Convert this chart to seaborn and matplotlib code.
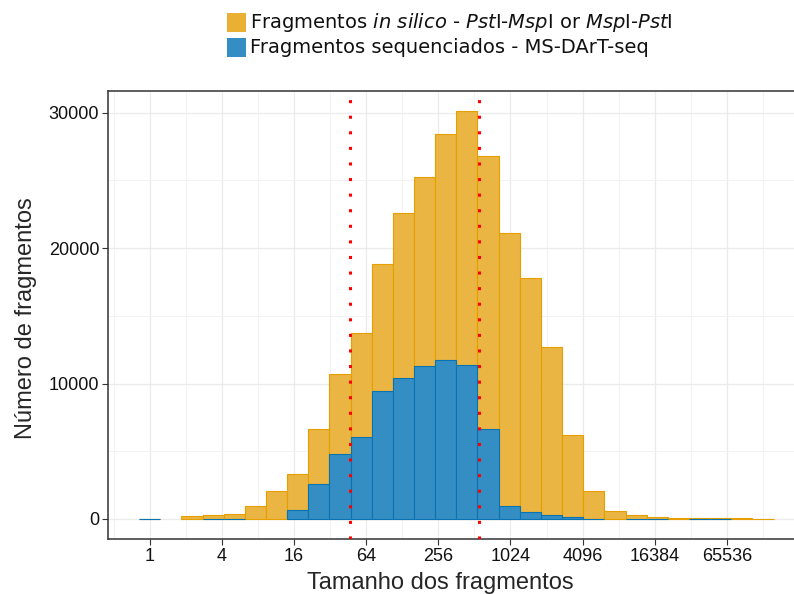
import numpy as np
import pandas as pd
import matplotlib
matplotlib.use("Agg")
import matplotlib.pyplot as plt
import seaborn as sns
from matplotlib.patches import Rectangle

# ---- data ----
n_bins = 30
log2_max = 17.0            # histogram spans 1 .. 2^17 on a log2 axis
bin_index = np.arange(n_bins)
in_silico_counts = [15, 0, 230, 310, 390, 960, 2060, 3320, 6650, 10700,
                    13730, 18830, 22600, 25250, 28430, 30130, 26800, 21120, 17800, 12700,
                    6200, 2070, 590, 295, 150, 75, 75, 75, 75, 15]
sequenced_counts = [15, 0, 0, 15, 15, 0, 0, 690, 2610, 4820,
                    6060, 9480, 10410, 11300, 11770, 11400, 6620, 985, 540, 320,
                    170, 30, 0, 15, 15, 0, 15, 15, 0, 0]
cutoff_sizes = [46.6, 564]
tick_sizes = [1, 4, 16, 64, 256, 1024, 4096, 16384, 65536]
y_ticks = [0, 10000, 20000, 30000]
legend_labels = [
    r"Fragmentos $\mathit{in\ silico}$ - $\mathit{Pst}$I-$\mathit{Msp}$I or $\mathit{Msp}$I-$\mathit{Pst}$I",
    "Fragmentos sequenciados - MS-DArT-seq",
]
x_title = "Tamanho dos fragmentos"
y_title = "Número de fragmentos"

yellow_fill, yellow_edge = "#E9B033", "#E69F00"
blue_fill, blue_edge = "#348EC3", "#0A74B2"

# ---- figure ----
sns.set_theme(style="white")
plt.rcParams['font.family'] = ['Liberation Sans', 'DejaVu Sans']
plt.rcParams['mathtext.fontset'] = 'dejavusans'

W, H = 794, 594
fig = plt.figure(figsize=(W / 100, H / 100), dpi=100)
L, R, T, B = 107.5, 794, 90.7, 539.3
ax = fig.add_axes([L / W, 1 - B / H, (R - L) / W, (B - T) / H])

width = log2_max / (n_bins - 1)
centers = bin_index * width
edges = [float(e) for e in np.concatenate([centers - width / 2, [centers[-1] + width / 2]])]
df = pd.DataFrame({"log2_size": centers,
                   "in_silico": np.asarray(in_silico_counts, dtype=float),
                   "sequenced": np.asarray(sequenced_counts, dtype=float)})

sns.histplot(data=df, x="log2_size", weights="in_silico", bins=edges, ax=ax,
             color=yellow_fill, edgecolor=yellow_edge, linewidth=0.8, alpha=1)
n_y = len(ax.patches)
sns.histplot(data=df, x="log2_size", weights="sequenced", bins=edges, ax=ax,
             color=blue_fill, edgecolor=blue_edge, linewidth=0.8, alpha=1)
for i, p in enumerate(ax.patches):
    if i < n_y:
        p.set_facecolor(matplotlib.colors.to_rgba(yellow_fill, 0.93))
        p.set_edgecolor(yellow_edge)
        p.set_zorder(2)
    else:
        p.set_facecolor(blue_fill)
        p.set_edgecolor(blue_edge)
        p.set_zorder(3)
    if p.get_height() == 0:
        p.set_linewidth(0)

for c in cutoff_sizes:
    ax.axvline(np.log2(c), color="#FF0000", linewidth=2.2,
               linestyle=(0, (1, 4.1)), zorder=5)

ax.set_xlim(-1.17, 17.86)
ax.set_ylim(-1500, 31630)
ax.set_xticks(np.log2(tick_sizes))
ax.set_xticklabels([str(t) for t in tick_sizes])
ax.set_xticks(np.arange(-1, 18, 2), minor=True)
ax.set_yticks(y_ticks)
ax.set_yticklabels([str(t) for t in y_ticks])
ax.set_yticks([5000, 15000, 25000], minor=True)

ax.set_axisbelow(True)
ax.grid(True, which="major", color="#EBEBEB", linewidth=0.9, zorder=0)
ax.grid(True, which="minor", color="#F2F2F2", linewidth=0.7, zorder=0)
ax.tick_params(which="major", direction="out", length=4, width=0.8,
               color="#333333", labelsize=13, labelcolor="#111111", pad=2,
               bottom=True, left=True)
ax.tick_params(which="minor", length=0)
ax.set_xlabel("")
ax.set_ylabel("")
for s in ["left", "bottom", "top"]:
    ax.spines[s].set_color("#333333")
    ax.spines[s].set_linewidth(1.1)
ax.spines["right"].set_visible(False)

fig.text(440 / W, 1 - 588.5 / H, x_title, ha="center", va="baseline", fontsize=17)
fig.text(26 / W, 1 - 318 / H, y_title, ha="center", va="center",
         rotation=90, fontsize=17)

# legend
for j, (lab, col) in enumerate(zip(legend_labels, [yellow_fill, blue_fill])):
    y0 = 13 + 25 * j
    fig.add_artist(Rectangle((227 / W, 1 - (y0 + 19) / H), 19 / W, 19 / H,
                             transform=fig.transFigure, facecolor=col,
                             edgecolor="none"))
    fig.text(250 / W, 1 - (y0 + 9.5) / H, lab, ha="left", va="center",
             fontsize=14, family="DejaVu Sans", color="#111111")

fig.savefig("out.png", dpi=100)
